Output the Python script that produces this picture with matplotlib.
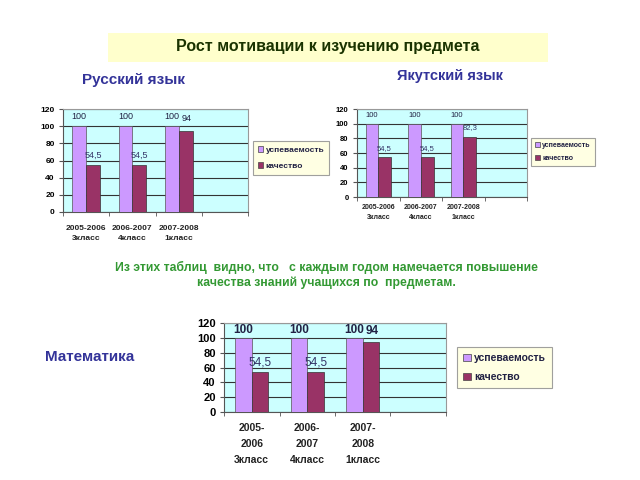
import matplotlib.pyplot as plt
from matplotlib.patches import Rectangle, Patch
import numpy as np

plt.rcParams['font.family'] = ['Liberation Sans', 'DejaVu Sans']

# data
years_two = ['2005-2006\n3класс', '2006-2007\n4класс', '2007-2008\n1класс']
years_three = ['2005-\n2006\n3класс', '2006-\n2007\n4класс', '2007-\n2008\n1класс']
series_names = ['успеваемость', 'качество']

russian_progress = [100, 100, 100]
russian_quality = [54.5, 54.5, 94]
yakut_progress = [100, 100, 100]
yakut_quality = [54.5, 54.5, 82.3]
math_progress = [100, 100, 100]
math_quality = [54.5, 54.5, 94]

violet = '#CC99FF'
maroon = '#993366'
W, H = 640, 480

fig = plt.figure(figsize=(6.4, 4.8), dpi=100)


def px_rect(x0, y0, x1, y1):
    return [x0 / W, 1 - y1 / H, (x1 - x0) / W, (y1 - y0) / H]


def fmt(v):
    return ('%g' % v).replace('.', ',')


def bar_chart(rect, labels, progress, quality, tick_fs, xtick_fs, val_fs, leg_rect, leg_fs,
              xpad=5, xspacing=1.5, top_bold=False):
    ax = fig.add_axes(px_rect(*rect))
    ax.set_facecolor('#CCFFFF')
    n = len(labels)
    x = np.arange(n) + 0.5
    bw = 0.3
    ax.bar(x - bw / 2, progress, bw, color=violet, edgecolor='#555555', linewidth=0.5, zorder=3)
    ax.bar(x + bw / 2, quality, bw, color=maroon, edgecolor='#333333', linewidth=0.5, zorder=3)
    for xi, p, q in zip(x, progress, quality):
        ax.text(xi - bw / 2, p + 11, fmt(p), ha='center', va='center', fontsize=val_fs,
                fontweight='bold' if top_bold else 'normal', color='#222244', zorder=4)
        if q > 90:
            ax.text(xi + bw / 2 + 0.02, q + 15, fmt(q), ha='center', va='center', fontsize=val_fs,
                    fontweight='bold' if top_bold else 'normal', color='#222244', zorder=4)
        else:
            ax.text(xi + bw / 2, q + 12, fmt(q), ha='center', va='center', fontsize=val_fs,
                    color='#333366', zorder=4)
    ax.set_xlim(0, 4)
    ax.set_ylim(0, 120)
    ax.set_yticks(range(0, 121, 20))
    ax.yaxis.grid(True, color='#333333', linewidth=0.8, zorder=1)
    ax.set_xticks(x)
    ax.set_xticklabels(labels, fontsize=xtick_fs, fontweight='bold', color='#222222', linespacing=xspacing)
    ax.set_xticks(np.arange(5), minor=True)
    ax.tick_params(axis='x', which='major', length=0, pad=xpad)
    ax.tick_params(axis='x', which='minor', length=3, color='#555555')
    ax.tick_params(axis='y', labelsize=tick_fs, length=3, color='#555555', pad=3)
    for lab in ax.get_yticklabels():
        lab.set_fontweight('bold')
    for s in ax.spines.values():
        s.set_color('#999999')
        s.set_linewidth(0.8)
    ax.spines['left'].set_color('#555555')
    ax.spines['bottom'].set_color('#555555')

    handles = [Patch(facecolor=violet, edgecolor='#444444', linewidth=0.5),
               Patch(facecolor=maroon, edgecolor='#444444', linewidth=0.5)]
    lx0, ly0, lx1, ly1 = leg_rect
    leg = fig.legend(handles, series_names, loc='center',
                     bbox_to_anchor=((lx0 + lx1) / 2 / W, 1 - (ly0 + ly1) / 2 / H),
                     frameon=True, fancybox=False, handlelength=0.7,
                     handleheight=0.7, handletextpad=0.3, borderpad=0.6, labelspacing=0.9,
                     prop={'weight': 'bold', 'size': leg_fs})
    leg.get_frame().set_facecolor('#FFFFDD')
    leg.get_frame().set_edgecolor('#888888')
    leg.get_frame().set_linewidth(0.8)
    for t in leg.get_texts():
        t.set_color('#222244')
    return ax


# title band
fig.patches.append(Rectangle((108 / W, 1 - 62 / H), 440 / W, 29 / H, transform=fig.transFigure,
                             facecolor='#FFFFCC', edgecolor='none', zorder=0))
fig.text(328 / W, 1 - 47 / H, 'Рост мотивации к изучению предмета', ha='center', va='center',
         fontsize=11.5, fontweight='bold', color='#1A3300')

fig.text(133 / W, 1 - 80 / H, 'Русский язык', ha='center', va='center',
         fontsize=11, fontweight='bold', color='#333399')
fig.text(450 / W, 1 - 76 / H, 'Якутский язык', ha='center', va='center',
         fontsize=10.5, fontweight='bold', color='#333399')
fig.text(90 / W, 1 - 357 / H, 'Математика', ha='center', va='center',
         fontsize=11, fontweight='bold', color='#333399')

fig.text(326 / W, 1 - 275 / H,
         'Из этих таблиц  видно, что   с каждым годом намечается повышение\nкачества знаний учащихся по  предметам.',
         ha='center', va='center', fontsize=8.8, fontweight='bold', color='#339933', linespacing=1.3)

bar_chart((63, 109, 248, 212), years_two, russian_progress, russian_quality,
          6, 6, 6.5, (252, 142, 330, 174), 6, xpad=9, xspacing=1.6)
bar_chart((357, 109, 527, 197), years_two, yakut_progress, yakut_quality,
          5.5, 5, 5.5, (531, 139, 595, 165), 5, xpad=5, xspacing=1.6)
bar_chart((224, 323, 446, 412), years_three, math_progress, math_quality,
          8, 7.5, 8.5, (457, 350, 552, 385), 7.5, xpad=8, xspacing=1.75, top_bold=True)

fig.savefig('out.png', dpi=100)
